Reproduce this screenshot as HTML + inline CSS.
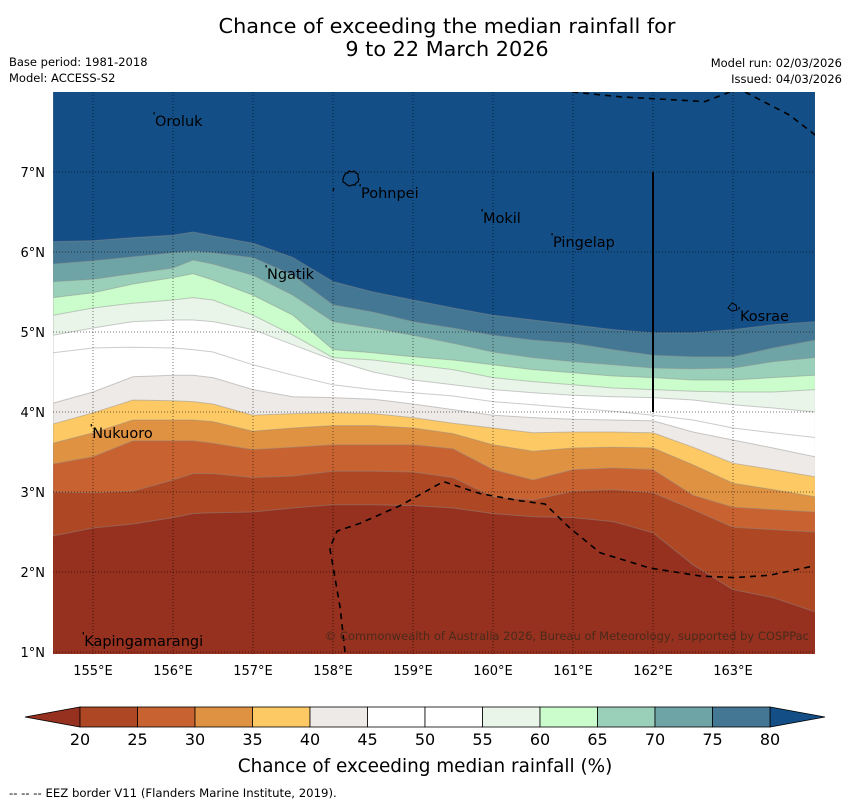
<!DOCTYPE html>
<html><head><meta charset="utf-8">
<style>
html,body{margin:0;padding:0;background:#fff;}
body{width:850px;height:804px;position:relative;overflow:hidden;font-family:"DejaVu Sans","Liberation Sans",sans-serif;}
svg{position:absolute;left:0;top:0;font-family:"DejaVu Sans","Liberation Sans",sans-serif;}
</style></head>
<body>
<svg id="chart" width="850" height="804" viewBox="0 0 850 804">
  <text x="447" y="33" text-anchor="middle" font-size="20.8">Chance of exceeding the median rainfall for</text>
  <text x="447" y="56" text-anchor="middle" font-size="20.8">9 to 22 March 2026</text>
  <text x="9" y="66" font-size="11.5">Base period: 1981-2018</text>
  <text x="9" y="82" font-size="11.5">Model: ACCESS-S2</text>
  <text x="842" y="67" font-size="11.5" text-anchor="end">Model run: 02/03/2026</text>
  <text x="842" y="83" font-size="11.5" text-anchor="end">Issued: 04/03/2026</text>
  <defs><clipPath id="mapclip"><rect x="53" y="92" width="762" height="562"/></clipPath></defs>
  <g id="map" clip-path="url(#mapclip)"></g>
  <g id="axes"></g>
  <g id="cbar"></g>
  <text x="425" y="772" text-anchor="middle" font-size="18.4">Chance of exceeding median rainfall (%)</text>
  <text x="9" y="797" font-size="11.7">--  --  -- EEZ border V11 (Flanders Marine Institute, 2019).</text>
</svg>
<script>
// ---- data ----
const lons = [154.5,155,155.5,156,156.25,156.5,157,157.5,158,158.5,159,159.5,160,160.5,161,161.5,162,162.5,163,163.5,164.03];
const levels = [20,25,30,35,40,45,50,55,60,65,70,75,80];
const colors = ["#96301f","#ae4824","#c96231","#df9242","#fdc964","#eeeae7","#ffffff","#ffffff","#eaf5ea","#cbfccb","#9acfb9","#6ea4a6","#437793","#134e87"];
const b20 = [2.45,2.55,2.6,2.68,2.73,2.74,2.75,2.8,2.84,2.84,2.83,2.8,2.73,2.69,2.68,2.63,2.49,2.09,1.78,1.68,1.5];
const b25 = [3.0,2.99,3.01,3.15,3.23,3.23,3.18,3.2,3.26,3.26,3.25,3.18,2.94,2.9,3.01,3.03,2.99,2.78,2.56,2.53,2.5];
const b30 = [3.35,3.44,3.64,3.64,3.64,3.61,3.53,3.56,3.59,3.59,3.59,3.54,3.28,3.15,3.28,3.3,3.28,2.96,2.81,2.78,2.75];
const b35 = [3.61,3.74,3.9,3.9,3.9,3.88,3.76,3.8,3.83,3.83,3.8,3.73,3.59,3.51,3.55,3.56,3.55,3.34,3.11,3.03,2.94];
const b40 = [3.85,3.99,4.15,4.14,4.13,4.1,3.96,3.98,3.99,3.98,3.93,3.86,3.8,3.74,3.75,3.75,3.74,3.56,3.36,3.28,3.19];
const b45 = [4.11,4.25,4.44,4.46,4.46,4.43,4.28,4.19,4.18,4.16,4.1,4.03,3.96,3.93,3.91,3.9,3.89,3.75,3.65,3.55,3.44];
const b50 = [4.74,4.8,4.81,4.8,4.78,4.75,4.59,4.46,4.34,4.28,4.24,4.2,4.13,4.09,4.05,4.01,3.96,3.9,3.8,3.74,3.68];
const b55 = [4.96,5.05,5.13,5.15,5.15,5.13,5.03,4.84,4.65,4.5,4.4,4.34,4.28,4.24,4.21,4.19,4.18,4.15,4.09,4.05,4.0];
const b60 = [5.21,5.3,5.36,5.4,5.43,5.4,5.21,4.96,4.68,4.65,4.59,4.53,4.43,4.38,4.34,4.3,4.28,4.26,4.25,4.25,4.28];
const b65 = [5.43,5.49,5.6,5.68,5.73,5.65,5.46,5.21,4.78,4.74,4.69,4.65,4.59,4.53,4.49,4.45,4.43,4.4,4.4,4.43,4.46];
const b70 = [5.63,5.66,5.73,5.8,5.9,5.85,5.71,5.46,5.13,5.05,4.96,4.86,4.75,4.68,4.63,4.59,4.55,4.54,4.55,4.63,4.68];
const b75 = [5.85,5.89,5.94,5.99,6.01,5.99,5.93,5.71,5.34,5.25,5.13,5.05,4.96,4.9,4.86,4.78,4.71,4.69,4.69,4.8,4.9];
const b80 = [6.13,6.14,6.18,6.21,6.25,6.2,6.11,5.93,5.63,5.5,5.4,5.3,5.21,5.15,5.09,5.03,4.99,4.99,5.03,5.09,5.13];
const boundaries = [b20,b25,b30,b35,b40,b45,b50,b55,b60,b65,b70,b75,b80];
const xTicks = [155,156,157,158,159,160,161,162,163];
const yTicks = [1,2,3,4,5,6,7];
const eezSouthLon = [158.15,158.09,157.96,158.05,158.34,158.84,159.38,159.84,160.34,160.65,160.96,161.34,161.96,162.59,163.03,163.46,164.03];
const eezSouthLat = [1.0,1.55,2.3,2.51,2.61,2.83,3.13,2.98,2.89,2.85,2.55,2.24,2.05,1.95,1.93,1.96,2.08];
const eezNorthLon = [160.99,161.59,162.65,162.96];
const eezNorthLat = [8.0,7.94,7.88,8.0];
const eezNE_Lon = [163.15,163.71,164.03];
const eezNE_Lat = [8.0,7.71,7.46];
const places = ["Oroluk","Pohnpei","Mokil","Pingelap","Ngatik","Kosrae","Nukuoro","Kapingamarangi"];
const placeLon = [155.775,158.35,159.875,160.75,157.175,163.0875,154.99,154.89];
const placeLat = [7.575,6.675,6.3625,6.0625,5.6625,5.1375,3.675,1.075];
const cbarTicks = [20,25,30,35,40,45,50,55,60,65,70,75,80];

// ---- scales ----
const X = lon => 53 + (lon-154.5)*80;
const Y = lat => 92 + (8-lat)*80;
const NS = "http://www.w3.org/2000/svg";
function mk(tag, attrs, parent){const e=document.createElementNS(NS,tag);for(const k in attrs)e.setAttribute(k,attrs[k]);parent.appendChild(e);return e;}
const map = document.getElementById('map');
const axes = document.getElementById('axes');
const cbar = document.getElementById('cbar');

const bg = mk('rect',{x:53,y:92,width:762,height:562,fill:colors[0]},map);


boundaries.forEach((b,i)=>{
  let d = 'M'+X(lons[0])+','+Y(8.1);
  lons.forEach((lo,j)=>{ d += ' L'+X(lo).toFixed(1)+','+Y(b[j]).toFixed(1); });
  d += ' L'+X(lons[lons.length-1])+','+Y(8.1)+' Z';
  const p = mk('path',{d:d,fill:colors[i+1],stroke:'rgba(140,140,140,0.45)','stroke-width':1},map);
  
  
});
xTicks.forEach(t=>{
  const l = mk('line',{x1:X(t),x2:X(t),y1:92,y2:654,stroke:'rgba(0,0,0,0.55)','stroke-width':1,'stroke-dasharray':'1,2'},map);
  
  
});
yTicks.forEach(t=>{
  const l = mk('line',{x1:53,x2:815,y1:Y(t),y2:Y(t),stroke:'rgba(0,0,0,0.55)','stroke-width':1,'stroke-dasharray':'1,2'},map);
  
  
});
function poly(lo,la){return lo.map((v,i)=>X(v).toFixed(1)+','+Y(la[i]).toFixed(1)).join(' ');}
[[eezSouthLon,eezSouthLat,'eez-border-south'],[eezNorthLon,eezNorthLat,'eez-border-north'],[eezNE_Lon,eezNE_Lat,'eez-border-northeast']].forEach(a=>{
  const pl = mk('polyline',{points:poly(a[0],a[1]),fill:'none',stroke:'#000','stroke-width':1.6,'stroke-dasharray':'6,5'},map);
  
  
});
const vl = mk('line',{x1:X(162),x2:X(162),y1:Y(7),y2:Y(4),stroke:'#000','stroke-width':2},map);


const pn = mk('path',{d:'M344,176 l2,-3 l2,0 l1,-2 l3,1 l2,-1 l2,2 l2,1 l0,3 l1,2 l-1,3 l-2,1 l-1,2 l-3,0 l-2,1 l-3,-1 l-2,-2 l-2,-1 l0,-3 Z',fill:'none',stroke:'#000','stroke-width':1.2},map);


const ks = mk('path',{d:'M728,308 l4,-5 l4,2 l1,5 l-5,1 Z',fill:'none',stroke:'#000','stroke-width':1},map);


const pd = mk('line',{x1:334,y1:188,x2:333,y2:191,stroke:'#000','stroke-width':1.2},map);


places.forEach((n,i)=>{
  const dot = mk('rect',{x:X(placeLon[i])-1.5,y:Y(placeLat[i])-14,width:1.2,height:2.5,fill:'#000'},map);
  
  
  const t = mk('text',{x:X(placeLon[i]),y:Y(placeLat[i]),'font-size':14.5,fill:'#000'},map);
  t.textContent = n;
  
  
});
const cp = mk('text',{x:809,y:640,'font-size':11.5,'text-anchor':'end',fill:'#4a2a1a'},map);
cp.textContent = '© Commonwealth of Australia 2026, Bureau of Meteorology, supported by COSPPac';


xTicks.forEach(t=>{
  const tx = mk('text',{x:X(t),y:675,'font-size':13,'text-anchor':'middle'},axes);
  tx.textContent = t+'°E';
  
  
});
yTicks.forEach(t=>{
  const tx = mk('text',{x:45,y:Y(t)+5,'font-size':13,'text-anchor':'end'},axes);
  tx.textContent = t+'°N';
  
  
});
const cx0=80, cx1=770, cy0=707, cy1=727, seg=(cx1-cx0)/(cbarTicks.length-1);
const lt = mk('polygon',{points:`25,717 ${cx0},${cy0} ${cx0},${cy1}`,fill:colors[0],stroke:'#000','stroke-width':0.8},cbar);


const rt = mk('polygon',{points:`825,717 ${cx1},${cy0} ${cx1},${cy1}`,fill:colors[colors.length-1],stroke:'#000','stroke-width':0.8},cbar);


for(let i=0;i<cbarTicks.length-1;i++){
  const r = mk('rect',{x:cx0+i*seg,y:cy0,width:seg,height:cy1-cy0,fill:colors[i+1],stroke:'#000','stroke-width':0.8},cbar);
  
  
}
cbarTicks.forEach((t,i)=>{
  const tx = mk('text',{x:cx0+i*seg,y:745,'font-size':16,'text-anchor':'middle'},cbar);
  tx.textContent = t;
  
  
});
</script>
</body></html>
